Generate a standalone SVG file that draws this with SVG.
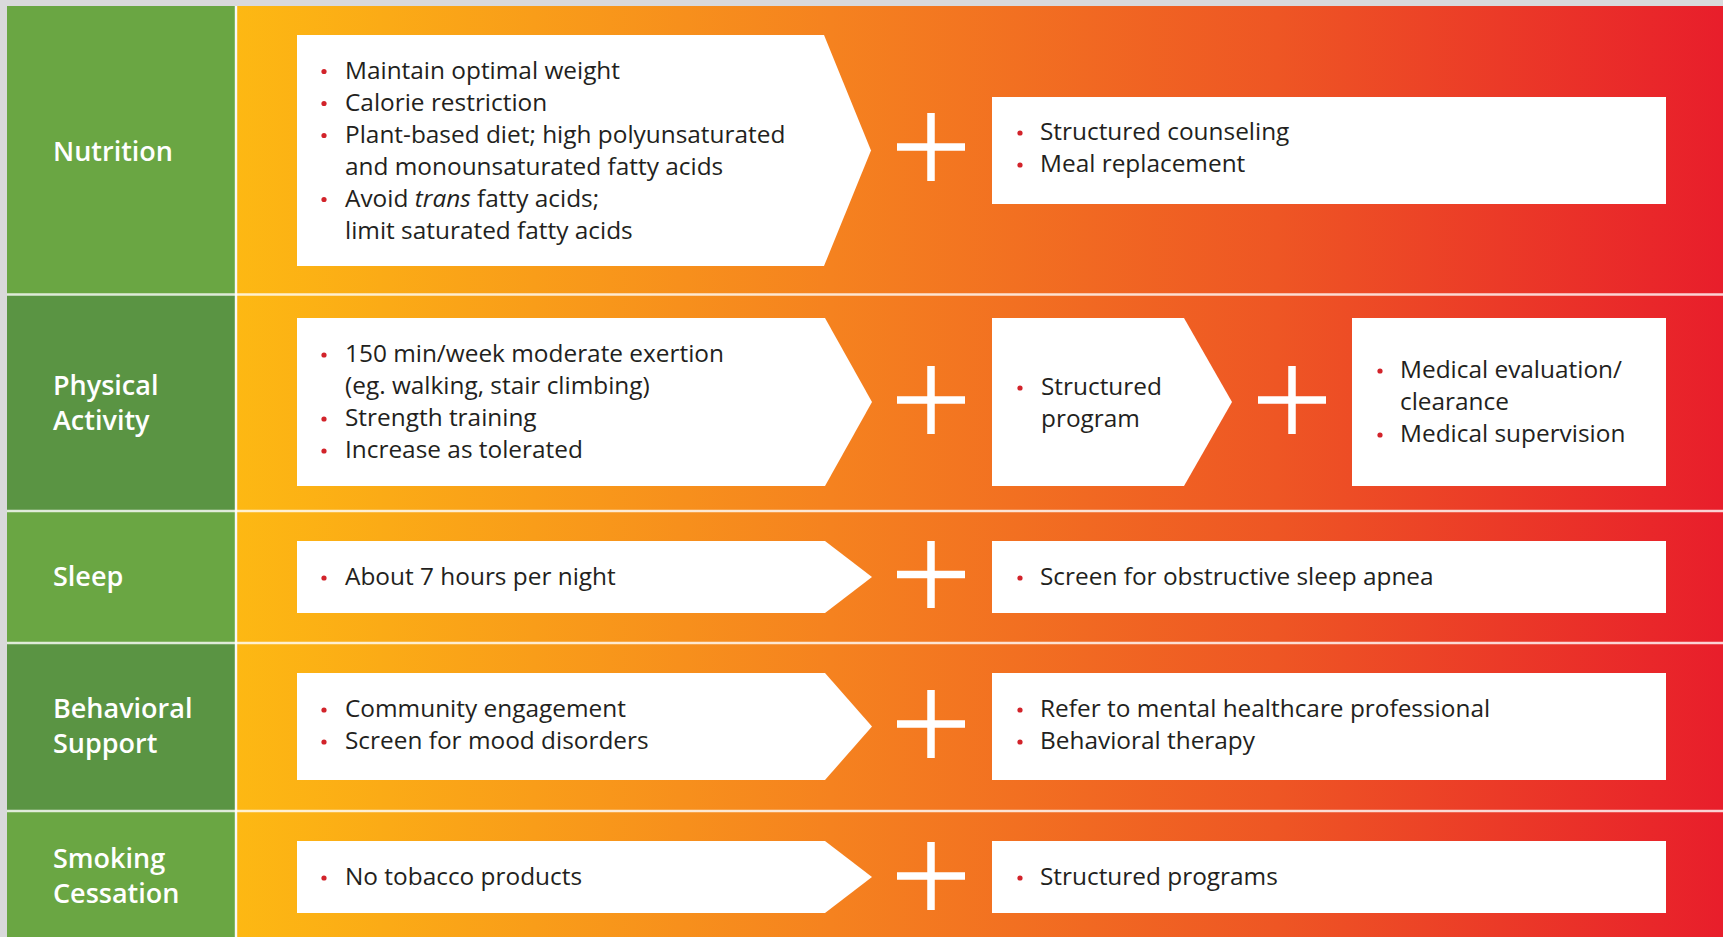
<svg xmlns="http://www.w3.org/2000/svg" width="1723" height="937" viewBox="0 0 1723 937">
  <defs>
    <linearGradient id="bg" x1="237" y1="0" x2="1723" y2="0" gradientUnits="userSpaceOnUse">
      <stop offset="0" stop-color="#FDB813"/>
      <stop offset="0.4" stop-color="#F5821F"/>
      <stop offset="0.7" stop-color="#EE5624"/>
      <stop offset="1" stop-color="#E81E2B"/>
    </linearGradient>
    <style>
      .lab { font-family: "Open Sans", "Liberation Sans", sans-serif; font-size: 27px; font-weight: 600; fill: #ffffff; }
      .t { font-family: "Open Sans", "Liberation Sans", sans-serif; font-size: 24.4px; fill: #231f20; }
      .box { fill: #ffffff; }
      .dot { fill: #D2232A; }
      .plus { stroke: #ffffff; stroke-width: 7.5; fill: none; }
      .sep { stroke: #ffffff; stroke-opacity: 0.8; stroke-width: 2.5; }
      .gl { fill: #6AA643; }
      .gd { fill: #5A9443; }
    </style>
  </defs>

  <rect x="0" y="0" width="1723" height="937" fill="#D9D9DB"/>
  <rect x="237" y="6" width="1486" height="931" fill="url(#bg)"/>

  <g id="labels">
    <g id="label-nutrition">
      <rect class="gl" x="7" y="6" width="228" height="288"/>
      <text class="lab" x="53" y="161">Nutrition</text>
    </g>
    <g id="label-physical">
      <rect class="gd" x="7" y="294" width="228" height="217"/>
      <text class="lab" x="53" y="395">Physical</text>
      <text class="lab" x="53" y="430">Activity</text>
    </g>
    <g id="label-sleep">
      <rect class="gl" x="7" y="511" width="228" height="132"/>
      <text class="lab" x="53" y="586">Sleep</text>
    </g>
    <g id="label-behavioral">
      <rect class="gd" x="7" y="643" width="228" height="168"/>
      <text class="lab" x="53" y="718">Behavioral</text>
      <text class="lab" x="53" y="753">Support</text>
    </g>
    <g id="label-smoking">
      <rect class="gl" x="7" y="811" width="228" height="126"/>
      <text class="lab" x="53" y="868">Smoking</text>
      <text class="lab" x="53" y="903">Cessation</text>
    </g>
  </g>

  <g id="separators">
    <line class="sep" x1="236" y1="6" x2="236" y2="937"/>
    <line class="sep" x1="7" y1="294.5" x2="1723" y2="294.5"/>
    <line class="sep" x1="7" y1="511" x2="1723" y2="511"/>
    <line class="sep" x1="7" y1="643" x2="1723" y2="643"/>
    <line class="sep" x1="7" y1="811" x2="1723" y2="811"/>
  </g>

  <g id="nutrition-basic">
    <polygon class="box" points="297,35 824,35 871,150.5 824,266 297,266"/>
    <circle class="dot" cx="324" cy="71.5" r="2.6"/>
    <circle class="dot" cx="324" cy="103.5" r="2.6"/>
    <circle class="dot" cx="324" cy="135.5" r="2.6"/>
    <circle class="dot" cx="324" cy="199.5" r="2.6"/>
    <text class="t" x="345" y="78.5">Maintain optimal weight</text>
    <text class="t" x="345" y="110.5">Calorie restriction</text>
    <text class="t" x="345" y="142.5">Plant-based diet; high polyunsaturated</text>
    <text class="t" x="345" y="174.5">and monounsaturated fatty acids</text>
    <text class="t" x="345" y="206.5">Avoid <tspan font-style="italic">trans</tspan> fatty acids;</text>
    <text class="t" x="345" y="238.5">limit saturated fatty acids</text>
  </g>
  <g id="nutrition-extra">
    <rect class="box" x="992" y="97" width="674" height="107"/>
    <circle class="dot" cx="1020" cy="133" r="2.6"/>
    <circle class="dot" cx="1020" cy="165" r="2.6"/>
    <text class="t" x="1040" y="140">Structured counseling</text>
    <text class="t" x="1040" y="172">Meal replacement</text>
  </g>

  <g id="physical-basic">
    <polygon class="box" points="297,318 825,318 872,402 825,486 297,486"/>
    <circle class="dot" cx="324" cy="355" r="2.6"/>
    <circle class="dot" cx="324" cy="419" r="2.6"/>
    <circle class="dot" cx="324" cy="451" r="2.6"/>
    <text class="t" x="345" y="362">150 min/week moderate exertion</text>
    <text class="t" x="345" y="394">(eg. walking, stair climbing)</text>
    <text class="t" x="345" y="426">Strength training</text>
    <text class="t" x="345" y="458">Increase as tolerated</text>
  </g>
  <g id="physical-program">
    <polygon class="box" points="992,318 1184,318 1232,402 1184,486 992,486"/>
    <circle class="dot" cx="1020" cy="388" r="2.6"/>
    <text class="t" x="1041" y="395">Structured</text>
    <text class="t" x="1041" y="427">program</text>
  </g>
  <g id="physical-medical">
    <rect class="box" x="1352" y="318" width="314" height="168"/>
    <circle class="dot" cx="1380" cy="371" r="2.6"/>
    <circle class="dot" cx="1380" cy="435" r="2.6"/>
    <text class="t" x="1400" y="378">Medical evaluation/</text>
    <text class="t" x="1400" y="410">clearance</text>
    <text class="t" x="1400" y="442">Medical supervision</text>
  </g>

  <g id="sleep-basic">
    <polygon class="box" points="297,541 825,541 872,577 825,613 297,613"/>
    <circle class="dot" cx="324" cy="578" r="2.6"/>
    <text class="t" x="345" y="585">About 7 hours per night</text>
  </g>
  <g id="sleep-extra">
    <rect class="box" x="992" y="541" width="674" height="72"/>
    <circle class="dot" cx="1020" cy="578" r="2.6"/>
    <text class="t" x="1040" y="585">Screen for obstructive sleep apnea</text>
  </g>

  <g id="behavioral-basic">
    <polygon class="box" points="297,673 825,673 872,726.5 825,780 297,780"/>
    <circle class="dot" cx="324" cy="710" r="2.6"/>
    <circle class="dot" cx="324" cy="742" r="2.6"/>
    <text class="t" x="345" y="717">Community engagement</text>
    <text class="t" x="345" y="749">Screen for mood disorders</text>
  </g>
  <g id="behavioral-extra">
    <rect class="box" x="992" y="673" width="674" height="107"/>
    <circle class="dot" cx="1020" cy="710" r="2.6"/>
    <circle class="dot" cx="1020" cy="742" r="2.6"/>
    <text class="t" x="1040" y="717">Refer to mental healthcare professional</text>
    <text class="t" x="1040" y="749">Behavioral therapy</text>
  </g>

  <g id="smoking-basic">
    <polygon class="box" points="297,841 825,841 872,877 825,913 297,913"/>
    <circle class="dot" cx="324" cy="878" r="2.6"/>
    <text class="t" x="345" y="885">No tobacco products</text>
  </g>
  <g id="smoking-extra">
    <rect class="box" x="992" y="841" width="674" height="72"/>
    <circle class="dot" cx="1020" cy="878" r="2.6"/>
    <text class="t" x="1040" y="885">Structured programs</text>
  </g>

  <g id="connectors">
    <path class="plus" d="M931,113 V181 M897,147 H965"/>
    <path class="plus" d="M931,366 V434 M897,400 H965"/>
    <path class="plus" d="M1292,366 V434 M1258,400 H1326"/>
    <path class="plus" d="M931,541 V608 M897,574.5 H965"/>
    <path class="plus" d="M931,690 V758 M897,724 H965"/>
    <path class="plus" d="M931,842 V910 M897,876 H965"/>
  </g>
</svg>
